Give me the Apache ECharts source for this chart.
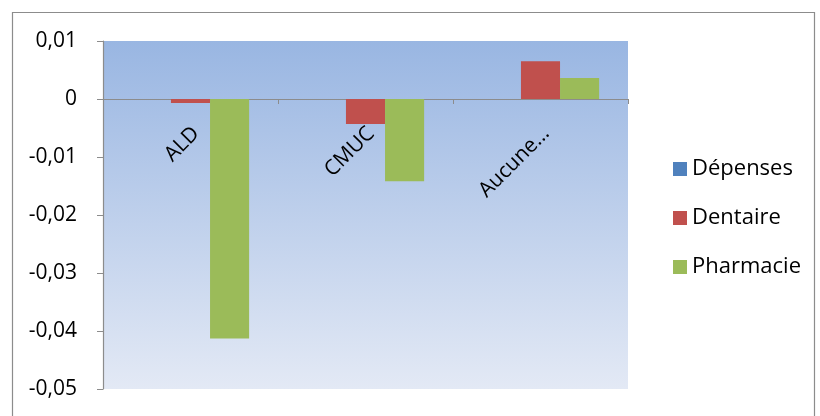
<!DOCTYPE html>
<html>
<head>
<meta charset="utf-8">
<script src="https://cdn.jsdelivr.net/npm/echarts@6/dist/echarts.min.js"></script>
<style>
  html, body { margin: 0; padding: 0; background: #fff; }
  #chart { width: 820px; height: 416px; }
</style>
</head>
<body>
<div id="chart"></div>
<script>
// Categories and series values
const categories = ['ALD', 'CMUC', 'Aucune…'];
const depenses = [0, 0, 0];
const dentaire = [-0.0007, -0.0043, 0.0065];
const pharmacie = [-0.0413, -0.0142, 0.0036];
const seriesNames = ['Dépenses', 'Dentaire', 'Pharmacie'];
const seriesColors = ['#4F81BD', '#C0504D', '#9BBB59'];

const font = 'Open Sans, Liberation Sans, sans-serif';
const chart = echarts.init(document.getElementById('chart'));

function fmt(v) {
  if (Math.abs(v) < 1e-9) return '0';
  return v.toFixed(2).replace('.', ',');
}

const gridBottom = 27;

chart.setOption({
  animation: false,
  graphic: [{
    type: 'rect',
    left: 10, top: 10,
    shape: { width: 802, height: 420 },
    style: { fill: 'none', stroke: '#8c8c8c', lineWidth: 1.2 },
    silent: true
  }],
  grid: {
    left: 103, right: 192, top: 41, bottom: gridBottom,
    outerBoundsMode: 'none',
    containLabel: false,
    show: true,
    borderWidth: 0,
    backgroundColor: new echarts.graphic.LinearGradient(0, 0, 0, 1, [
      { offset: 0, color: '#99B6E2' },
      { offset: 1, color: '#E3E9F5' }
    ])
  },
  legend: {
    orient: 'vertical',
    left: 668, top: 153,
    itemWidth: 14, itemHeight: 14,
    itemGap: 27,
    icon: 'rect',
    textStyle: { fontFamily: font, fontSize: 22, color: '#000' },
    data: seriesNames
  },
  xAxis: {
    type: 'category',
    data: categories,
    axisLine: { onZero: false, lineStyle: { color: '#8c8c8c', width: 1.2 } },
    axisTick: { show: true, length: 5, inside: false, lineStyle: { color: '#8c8c8c' } },
    axisLabel: {
      rotate: 45, margin: 37,
      padding: [0, -8, 0, 0],
      fontFamily: font, fontSize: 21, color: '#000'
    },
    splitLine: { show: false }
  },
  yAxis: {
    type: 'value',
    min: -0.05, max: 0.01, interval: 0.01,
    axisLine: { show: true, lineStyle: { color: '#8c8c8c', width: 1.2 } },
    axisTick: { show: true, length: 6, lineStyle: { color: '#8c8c8c' } },
    axisLabel: {
      formatter: fmt, margin: 26,
      fontFamily: font, fontSize: 21, color: '#000'
    },
    splitLine: { show: false }
  },
  series: [depenses, dentaire, pharmacie].map((d, i) => ({
    name: seriesNames[i],
    type: 'bar',
    data: d,
    barGap: '0%',
    barCategoryGap: '33%',
    itemStyle: { color: seriesColors[i] }
  }))
});

// Move the category axis (line, ticks and labels) up to the zero value
const zeroY = chart.convertToPixel({ yAxisIndex: 0 }, 0);
const bottomY = chart.getHeight() - gridBottom;
chart.setOption({ xAxis: { offset: zeroY - bottomY } });
</script>
</body>
</html>
